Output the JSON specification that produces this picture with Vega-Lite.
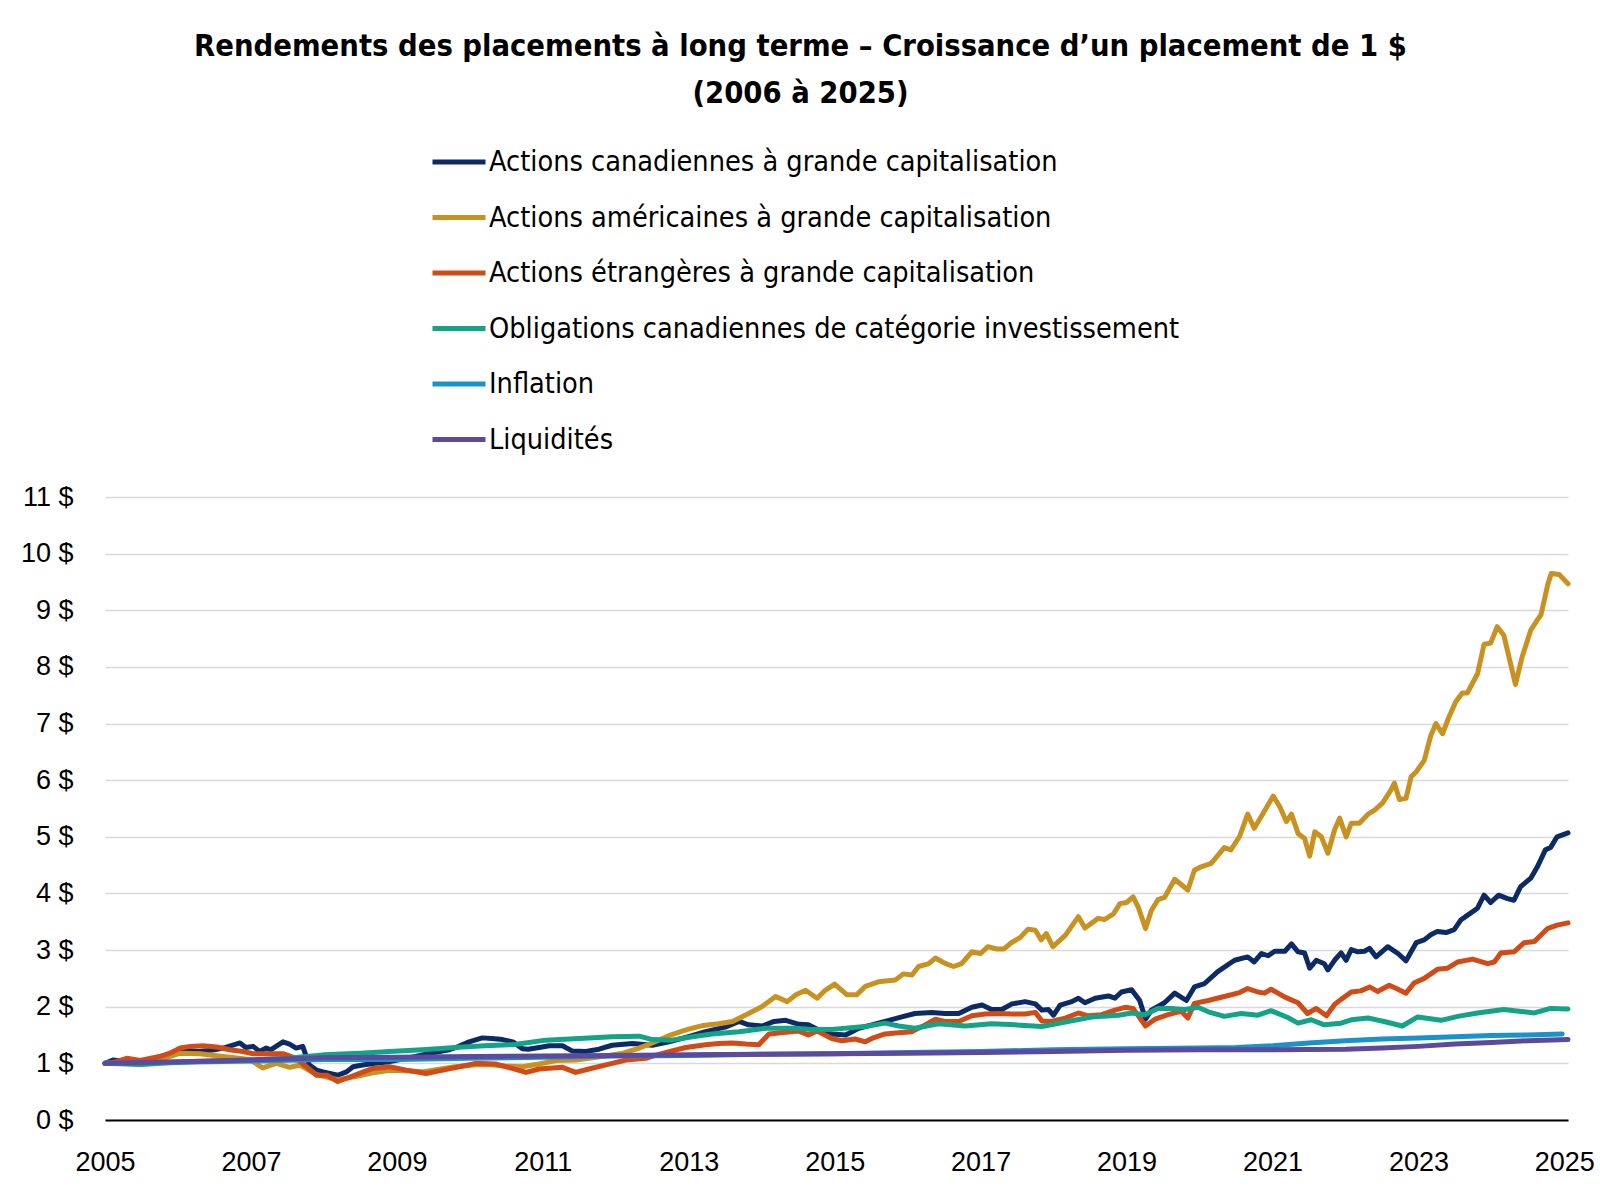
{
  "$schema": "https://vega.github.io/schema/vega-lite/v6.json",
  "width": 1463,
  "height": 623,
  "autosize": "none",
  "padding": {"left": 105, "top": 497, "right": 32, "bottom": 79},
  "background": "#ffffff",
  "title": {
    "text": ["Rendements des placements à long terme – Croissance d’un placement de 1 $", "(2006 à 2025)"],
    "font": "DejaVu Sans Condensed, Roboto Condensed, Roboto, sans-serif",
    "fontSize": 30.6,
    "fontWeight": "bold",
    "color": "#000000",
    "lineHeight": 47,
    "anchor": "middle",
    "frame": "group",
    "dx": -36,
    "dy": 2,
    "offset": 25
  },
  "data": {
    "values": [
      {"serie": "Actions canadiennes à grande capitalisation", "t": 2005.0, "v": 1.0},
      {"serie": "Actions canadiennes à grande capitalisation", "t": 2005.11, "v": 1.06},
      {"serie": "Actions canadiennes à grande capitalisation", "t": 2005.3, "v": 1.03},
      {"serie": "Actions canadiennes à grande capitalisation", "t": 2005.48, "v": 1.03},
      {"serie": "Actions canadiennes à grande capitalisation", "t": 2005.7, "v": 1.1},
      {"serie": "Actions canadiennes à grande capitalisation", "t": 2005.85, "v": 1.15},
      {"serie": "Actions canadiennes à grande capitalisation", "t": 2006.07, "v": 1.23},
      {"serie": "Actions canadiennes à grande capitalisation", "t": 2006.3, "v": 1.21},
      {"serie": "Actions canadiennes à grande capitalisation", "t": 2006.5, "v": 1.24},
      {"serie": "Actions canadiennes à grande capitalisation", "t": 2006.62, "v": 1.27},
      {"serie": "Actions canadiennes à grande capitalisation", "t": 2006.72, "v": 1.31},
      {"serie": "Actions canadiennes à grande capitalisation", "t": 2006.85, "v": 1.36},
      {"serie": "Actions canadiennes à grande capitalisation", "t": 2006.93, "v": 1.28},
      {"serie": "Actions canadiennes à grande capitalisation", "t": 2007.03, "v": 1.3},
      {"serie": "Actions canadiennes à grande capitalisation", "t": 2007.12, "v": 1.21},
      {"serie": "Actions canadiennes à grande capitalisation", "t": 2007.21, "v": 1.27},
      {"serie": "Actions canadiennes à grande capitalisation", "t": 2007.27, "v": 1.24},
      {"serie": "Actions canadiennes à grande capitalisation", "t": 2007.44, "v": 1.38},
      {"serie": "Actions canadiennes à grande capitalisation", "t": 2007.53, "v": 1.34},
      {"serie": "Actions canadiennes à grande capitalisation", "t": 2007.62, "v": 1.27},
      {"serie": "Actions canadiennes à grande capitalisation", "t": 2007.71, "v": 1.3},
      {"serie": "Actions canadiennes à grande capitalisation", "t": 2007.8, "v": 0.97},
      {"serie": "Actions canadiennes à grande capitalisation", "t": 2007.9, "v": 0.88},
      {"serie": "Actions canadiennes à grande capitalisation", "t": 2007.99, "v": 0.85},
      {"serie": "Actions canadiennes à grande capitalisation", "t": 2008.19, "v": 0.79},
      {"serie": "Actions canadiennes à grande capitalisation", "t": 2008.31, "v": 0.85},
      {"serie": "Actions canadiennes à grande capitalisation", "t": 2008.4, "v": 0.94},
      {"serie": "Actions canadiennes à grande capitalisation", "t": 2008.53, "v": 0.97},
      {"serie": "Actions canadiennes à grande capitalisation", "t": 2008.7, "v": 1.0},
      {"serie": "Actions canadiennes à grande capitalisation", "t": 2008.9, "v": 1.03},
      {"serie": "Actions canadiennes à grande capitalisation", "t": 2009.1, "v": 1.08},
      {"serie": "Actions canadiennes à grande capitalisation", "t": 2009.35, "v": 1.15},
      {"serie": "Actions canadiennes à grande capitalisation", "t": 2009.55, "v": 1.2},
      {"serie": "Actions canadiennes à grande capitalisation", "t": 2009.72, "v": 1.24},
      {"serie": "Actions canadiennes à grande capitalisation", "t": 2009.85, "v": 1.3},
      {"serie": "Actions canadiennes à grande capitalisation", "t": 2009.99, "v": 1.38},
      {"serie": "Actions canadiennes à grande capitalisation", "t": 2010.17, "v": 1.45},
      {"serie": "Actions canadiennes à grande capitalisation", "t": 2010.3, "v": 1.44},
      {"serie": "Actions canadiennes à grande capitalisation", "t": 2010.45, "v": 1.42},
      {"serie": "Actions canadiennes à grande capitalisation", "t": 2010.59, "v": 1.38},
      {"serie": "Actions canadiennes à grande capitalisation", "t": 2010.72, "v": 1.26},
      {"serie": "Actions canadiennes à grande capitalisation", "t": 2010.8, "v": 1.25},
      {"serie": "Actions canadiennes à grande capitalisation", "t": 2010.95, "v": 1.28},
      {"serie": "Actions canadiennes à grande capitalisation", "t": 2011.09, "v": 1.31},
      {"serie": "Actions canadiennes à grande capitalisation", "t": 2011.27, "v": 1.31},
      {"serie": "Actions canadiennes à grande capitalisation", "t": 2011.4, "v": 1.22},
      {"serie": "Actions canadiennes à grande capitalisation", "t": 2011.59, "v": 1.21},
      {"serie": "Actions canadiennes à grande capitalisation", "t": 2011.77, "v": 1.25},
      {"serie": "Actions canadiennes à grande capitalisation", "t": 2011.95, "v": 1.32},
      {"serie": "Actions canadiennes à grande capitalisation", "t": 2012.23, "v": 1.35},
      {"serie": "Actions canadiennes à grande capitalisation", "t": 2012.5, "v": 1.32},
      {"serie": "Actions canadiennes à grande capitalisation", "t": 2012.73, "v": 1.38},
      {"serie": "Actions canadiennes à grande capitalisation", "t": 2012.96, "v": 1.46},
      {"serie": "Actions canadiennes à grande capitalisation", "t": 2013.23, "v": 1.56},
      {"serie": "Actions canadiennes à grande capitalisation", "t": 2013.5, "v": 1.64},
      {"serie": "Actions canadiennes à grande capitalisation", "t": 2013.69, "v": 1.74},
      {"serie": "Actions canadiennes à grande capitalisation", "t": 2013.82, "v": 1.68},
      {"serie": "Actions canadiennes à grande capitalisation", "t": 2014.01, "v": 1.66},
      {"serie": "Actions canadiennes à grande capitalisation", "t": 2014.17, "v": 1.74},
      {"serie": "Actions canadiennes à grande capitalisation", "t": 2014.33, "v": 1.76},
      {"serie": "Actions canadiennes à grande capitalisation", "t": 2014.51, "v": 1.69},
      {"serie": "Actions canadiennes à grande capitalisation", "t": 2014.64, "v": 1.68},
      {"serie": "Actions canadiennes à grande capitalisation", "t": 2014.83, "v": 1.56},
      {"serie": "Actions canadiennes à grande capitalisation", "t": 2014.96, "v": 1.52},
      {"serie": "Actions canadiennes à grande capitalisation", "t": 2015.15, "v": 1.5},
      {"serie": "Actions canadiennes à grande capitalisation", "t": 2015.33, "v": 1.62},
      {"serie": "Actions canadiennes à grande capitalisation", "t": 2015.51, "v": 1.68},
      {"serie": "Actions canadiennes à grande capitalisation", "t": 2015.69, "v": 1.74},
      {"serie": "Actions canadiennes à grande capitalisation", "t": 2015.92, "v": 1.82},
      {"serie": "Actions canadiennes à grande capitalisation", "t": 2016.1, "v": 1.88},
      {"serie": "Actions canadiennes à grande capitalisation", "t": 2016.33, "v": 1.9},
      {"serie": "Actions canadiennes à grande capitalisation", "t": 2016.51, "v": 1.88},
      {"serie": "Actions canadiennes à grande capitalisation", "t": 2016.7, "v": 1.88},
      {"serie": "Actions canadiennes à grande capitalisation", "t": 2016.88, "v": 1.99},
      {"serie": "Actions canadiennes à grande capitalisation", "t": 2017.02, "v": 2.03},
      {"serie": "Actions canadiennes à grande capitalisation", "t": 2017.15, "v": 1.95},
      {"serie": "Actions canadiennes à grande capitalisation", "t": 2017.29, "v": 1.95},
      {"serie": "Actions canadiennes à grande capitalisation", "t": 2017.43, "v": 2.05},
      {"serie": "Actions canadiennes à grande capitalisation", "t": 2017.61, "v": 2.09},
      {"serie": "Actions canadiennes à grande capitalisation", "t": 2017.75, "v": 2.05},
      {"serie": "Actions canadiennes à grande capitalisation", "t": 2017.84, "v": 1.94},
      {"serie": "Actions canadiennes à grande capitalisation", "t": 2017.93, "v": 1.95},
      {"serie": "Actions canadiennes à grande capitalisation", "t": 2018.0, "v": 1.85},
      {"serie": "Actions canadiennes à grande capitalisation", "t": 2018.09, "v": 2.03},
      {"serie": "Actions canadiennes à grande capitalisation", "t": 2018.25, "v": 2.09},
      {"serie": "Actions canadiennes à grande capitalisation", "t": 2018.34, "v": 2.15},
      {"serie": "Actions canadiennes à grande capitalisation", "t": 2018.43, "v": 2.07},
      {"serie": "Actions canadiennes à grande capitalisation", "t": 2018.57, "v": 2.15},
      {"serie": "Actions canadiennes à grande capitalisation", "t": 2018.75, "v": 2.19},
      {"serie": "Actions canadiennes à grande capitalisation", "t": 2018.84, "v": 2.15},
      {"serie": "Actions canadiennes à grande capitalisation", "t": 2018.93, "v": 2.26},
      {"serie": "Actions canadiennes à grande capitalisation", "t": 2019.07, "v": 2.3},
      {"serie": "Actions canadiennes à grande capitalisation", "t": 2019.18, "v": 2.11},
      {"serie": "Actions canadiennes à grande capitalisation", "t": 2019.26, "v": 1.78},
      {"serie": "Actions canadiennes à grande capitalisation", "t": 2019.34, "v": 1.94},
      {"serie": "Actions canadiennes à grande capitalisation", "t": 2019.52, "v": 2.07},
      {"serie": "Actions canadiennes à grande capitalisation", "t": 2019.66, "v": 2.24},
      {"serie": "Actions canadiennes à grande capitalisation", "t": 2019.82, "v": 2.11},
      {"serie": "Actions canadiennes à grande capitalisation", "t": 2019.93, "v": 2.35},
      {"serie": "Actions canadiennes à grande capitalisation", "t": 2020.07, "v": 2.41},
      {"serie": "Actions canadiennes à grande capitalisation", "t": 2020.25, "v": 2.62},
      {"serie": "Actions canadiennes à grande capitalisation", "t": 2020.48, "v": 2.82},
      {"serie": "Actions canadiennes à grande capitalisation", "t": 2020.66, "v": 2.88},
      {"serie": "Actions canadiennes à grande capitalisation", "t": 2020.75, "v": 2.79},
      {"serie": "Actions canadiennes à grande capitalisation", "t": 2020.85, "v": 2.94},
      {"serie": "Actions canadiennes à grande capitalisation", "t": 2020.94, "v": 2.9},
      {"serie": "Actions canadiennes à grande capitalisation", "t": 2021.03, "v": 2.98},
      {"serie": "Actions canadiennes à grande capitalisation", "t": 2021.17, "v": 2.98},
      {"serie": "Actions canadiennes à grande capitalisation", "t": 2021.26, "v": 3.11},
      {"serie": "Actions canadiennes à grande capitalisation", "t": 2021.35, "v": 2.97},
      {"serie": "Actions canadiennes à grande capitalisation", "t": 2021.44, "v": 2.95},
      {"serie": "Actions canadiennes à grande capitalisation", "t": 2021.51, "v": 2.68},
      {"serie": "Actions canadiennes à grande capitalisation", "t": 2021.6, "v": 2.82},
      {"serie": "Actions canadiennes à grande capitalisation", "t": 2021.71, "v": 2.76},
      {"serie": "Actions canadiennes à grande capitalisation", "t": 2021.76, "v": 2.65},
      {"serie": "Actions canadiennes à grande capitalisation", "t": 2021.85, "v": 2.82},
      {"serie": "Actions canadiennes à grande capitalisation", "t": 2021.94, "v": 2.95},
      {"serie": "Actions canadiennes à grande capitalisation", "t": 2022.01, "v": 2.82},
      {"serie": "Actions canadiennes à grande capitalisation", "t": 2022.08, "v": 3.01},
      {"serie": "Actions canadiennes à grande capitalisation", "t": 2022.17, "v": 2.97},
      {"serie": "Actions canadiennes à grande capitalisation", "t": 2022.26, "v": 2.98},
      {"serie": "Actions canadiennes à grande capitalisation", "t": 2022.33, "v": 3.03},
      {"serie": "Actions canadiennes à grande capitalisation", "t": 2022.42, "v": 2.88},
      {"serie": "Actions canadiennes à grande capitalisation", "t": 2022.58, "v": 3.06},
      {"serie": "Actions canadiennes à grande capitalisation", "t": 2022.72, "v": 2.94},
      {"serie": "Actions canadiennes à grande capitalisation", "t": 2022.83, "v": 2.81},
      {"serie": "Actions canadiennes à grande capitalisation", "t": 2022.97, "v": 3.13},
      {"serie": "Actions canadiennes à grande capitalisation", "t": 2023.08, "v": 3.18},
      {"serie": "Actions canadiennes à grande capitalisation", "t": 2023.17, "v": 3.27},
      {"serie": "Actions canadiennes à grande capitalisation", "t": 2023.26, "v": 3.33},
      {"serie": "Actions canadiennes à grande capitalisation", "t": 2023.38, "v": 3.31},
      {"serie": "Actions canadiennes à grande capitalisation", "t": 2023.49, "v": 3.36},
      {"serie": "Actions canadiennes à grande capitalisation", "t": 2023.58, "v": 3.53},
      {"serie": "Actions canadiennes à grande capitalisation", "t": 2023.7, "v": 3.64},
      {"serie": "Actions canadiennes à grande capitalisation", "t": 2023.81, "v": 3.74},
      {"serie": "Actions canadiennes à grande capitalisation", "t": 2023.9, "v": 3.97},
      {"serie": "Actions canadiennes à grande capitalisation", "t": 2023.99, "v": 3.84},
      {"serie": "Actions canadiennes à grande capitalisation", "t": 2024.1, "v": 3.97},
      {"serie": "Actions canadiennes à grande capitalisation", "t": 2024.22, "v": 3.91},
      {"serie": "Actions canadiennes à grande capitalisation", "t": 2024.31, "v": 3.88},
      {"serie": "Actions canadiennes à grande capitalisation", "t": 2024.4, "v": 4.12},
      {"serie": "Actions canadiennes à grande capitalisation", "t": 2024.54, "v": 4.27},
      {"serie": "Actions canadiennes à grande capitalisation", "t": 2024.63, "v": 4.47},
      {"serie": "Actions canadiennes à grande capitalisation", "t": 2024.74, "v": 4.77},
      {"serie": "Actions canadiennes à grande capitalisation", "t": 2024.81, "v": 4.81},
      {"serie": "Actions canadiennes à grande capitalisation", "t": 2024.9, "v": 5.0},
      {"serie": "Actions canadiennes à grande capitalisation", "t": 2025.05, "v": 5.07},

      {"serie": "Actions américaines à grande capitalisation", "t": 2005.0, "v": 1.0},
      {"serie": "Actions américaines à grande capitalisation", "t": 2005.25, "v": 1.0},
      {"serie": "Actions américaines à grande capitalisation", "t": 2005.48, "v": 0.98},
      {"serie": "Actions américaines à grande capitalisation", "t": 2005.75, "v": 1.06},
      {"serie": "Actions américaines à grande capitalisation", "t": 2006.03, "v": 1.18},
      {"serie": "Actions américaines à grande capitalisation", "t": 2006.3, "v": 1.17},
      {"serie": "Actions américaines à grande capitalisation", "t": 2006.62, "v": 1.12},
      {"serie": "Actions américaines à grande capitalisation", "t": 2006.98, "v": 1.07},
      {"serie": "Actions américaines à grande capitalisation", "t": 2007.16, "v": 0.92},
      {"serie": "Actions américaines à grande capitalisation", "t": 2007.35, "v": 1.0},
      {"serie": "Actions américaines à grande capitalisation", "t": 2007.53, "v": 0.93},
      {"serie": "Actions américaines à grande capitalisation", "t": 2007.67, "v": 0.97},
      {"serie": "Actions américaines à grande capitalisation", "t": 2007.9, "v": 0.8},
      {"serie": "Actions américaines à grande capitalisation", "t": 2008.19, "v": 0.71},
      {"serie": "Actions américaines à grande capitalisation", "t": 2008.45, "v": 0.77},
      {"serie": "Actions américaines à grande capitalisation", "t": 2008.7, "v": 0.84},
      {"serie": "Actions américaines à grande capitalisation", "t": 2008.9, "v": 0.88},
      {"serie": "Actions américaines à grande capitalisation", "t": 2009.13, "v": 0.87},
      {"serie": "Actions américaines à grande capitalisation", "t": 2009.35, "v": 0.85},
      {"serie": "Actions américaines à grande capitalisation", "t": 2009.6, "v": 0.9},
      {"serie": "Actions américaines à grande capitalisation", "t": 2009.8, "v": 0.94},
      {"serie": "Actions américaines à grande capitalisation", "t": 2010.05, "v": 0.97},
      {"serie": "Actions américaines à grande capitalisation", "t": 2010.26, "v": 0.98},
      {"serie": "Actions américaines à grande capitalisation", "t": 2010.5, "v": 0.95},
      {"serie": "Actions américaines à grande capitalisation", "t": 2010.72, "v": 0.94},
      {"serie": "Actions américaines à grande capitalisation", "t": 2010.95, "v": 0.99},
      {"serie": "Actions américaines à grande capitalisation", "t": 2011.18, "v": 1.05},
      {"serie": "Actions américaines à grande capitalisation", "t": 2011.45, "v": 1.06},
      {"serie": "Actions américaines à grande capitalisation", "t": 2011.63, "v": 1.09},
      {"serie": "Actions américaines à grande capitalisation", "t": 2011.9, "v": 1.14},
      {"serie": "Actions américaines à grande capitalisation", "t": 2012.1, "v": 1.18},
      {"serie": "Actions américaines à grande capitalisation", "t": 2012.3, "v": 1.26},
      {"serie": "Actions américaines à grande capitalisation", "t": 2012.5, "v": 1.36},
      {"serie": "Actions américaines à grande capitalisation", "t": 2012.75, "v": 1.5},
      {"serie": "Actions américaines à grande capitalisation", "t": 2012.96, "v": 1.59},
      {"serie": "Actions américaines à grande capitalisation", "t": 2013.2, "v": 1.67},
      {"serie": "Actions américaines à grande capitalisation", "t": 2013.41, "v": 1.7},
      {"serie": "Actions américaines à grande capitalisation", "t": 2013.6, "v": 1.74},
      {"serie": "Actions américaines à grande capitalisation", "t": 2013.82, "v": 1.88},
      {"serie": "Actions américaines à grande capitalisation", "t": 2014.0, "v": 2.0},
      {"serie": "Actions américaines à grande capitalisation", "t": 2014.19, "v": 2.18},
      {"serie": "Actions américaines à grande capitalisation", "t": 2014.35, "v": 2.09},
      {"serie": "Actions américaines à grande capitalisation", "t": 2014.47, "v": 2.21},
      {"serie": "Actions américaines à grande capitalisation", "t": 2014.6, "v": 2.29},
      {"serie": "Actions américaines à grande capitalisation", "t": 2014.76, "v": 2.15},
      {"serie": "Actions américaines à grande capitalisation", "t": 2014.87, "v": 2.29},
      {"serie": "Actions américaines à grande capitalisation", "t": 2015.0, "v": 2.4},
      {"serie": "Actions américaines à grande capitalisation", "t": 2015.17, "v": 2.21},
      {"serie": "Actions américaines à grande capitalisation", "t": 2015.3, "v": 2.21},
      {"serie": "Actions américaines à grande capitalisation", "t": 2015.42, "v": 2.36},
      {"serie": "Actions américaines à grande capitalisation", "t": 2015.6, "v": 2.44},
      {"serie": "Actions américaines à grande capitalisation", "t": 2015.83, "v": 2.47},
      {"serie": "Actions américaines à grande capitalisation", "t": 2015.94, "v": 2.58},
      {"serie": "Actions américaines à grande capitalisation", "t": 2016.06, "v": 2.56},
      {"serie": "Actions américaines à grande capitalisation", "t": 2016.15, "v": 2.71},
      {"serie": "Actions américaines à grande capitalisation", "t": 2016.29, "v": 2.76},
      {"serie": "Actions américaines à grande capitalisation", "t": 2016.38, "v": 2.86},
      {"serie": "Actions américaines à grande capitalisation", "t": 2016.52, "v": 2.76},
      {"serie": "Actions américaines à grande capitalisation", "t": 2016.63, "v": 2.71},
      {"serie": "Actions américaines à grande capitalisation", "t": 2016.74, "v": 2.76},
      {"serie": "Actions américaines à grande capitalisation", "t": 2016.88, "v": 2.97},
      {"serie": "Actions américaines à grande capitalisation", "t": 2017.0, "v": 2.94},
      {"serie": "Actions américaines à grande capitalisation", "t": 2017.1, "v": 3.06},
      {"serie": "Actions américaines à grande capitalisation", "t": 2017.22, "v": 3.02},
      {"serie": "Actions américaines à grande capitalisation", "t": 2017.32, "v": 3.02},
      {"serie": "Actions américaines à grande capitalisation", "t": 2017.42, "v": 3.13},
      {"serie": "Actions américaines à grande capitalisation", "t": 2017.54, "v": 3.22},
      {"serie": "Actions américaines à grande capitalisation", "t": 2017.65, "v": 3.37},
      {"serie": "Actions américaines à grande capitalisation", "t": 2017.75, "v": 3.35},
      {"serie": "Actions américaines à grande capitalisation", "t": 2017.83, "v": 3.18},
      {"serie": "Actions américaines à grande capitalisation", "t": 2017.9, "v": 3.29},
      {"serie": "Actions américaines à grande capitalisation", "t": 2017.99, "v": 3.06},
      {"serie": "Actions américaines à grande capitalisation", "t": 2018.16, "v": 3.26},
      {"serie": "Actions américaines à grande capitalisation", "t": 2018.34, "v": 3.59},
      {"serie": "Actions américaines à grande capitalisation", "t": 2018.43, "v": 3.39},
      {"serie": "Actions américaines à grande capitalisation", "t": 2018.61, "v": 3.56},
      {"serie": "Actions américaines à grande capitalisation", "t": 2018.7, "v": 3.54},
      {"serie": "Actions américaines à grande capitalisation", "t": 2018.82, "v": 3.64},
      {"serie": "Actions américaines à grande capitalisation", "t": 2018.91, "v": 3.82},
      {"serie": "Actions américaines à grande capitalisation", "t": 2019.0, "v": 3.84},
      {"serie": "Actions américaines à grande capitalisation", "t": 2019.09, "v": 3.94},
      {"serie": "Actions américaines à grande capitalisation", "t": 2019.16, "v": 3.76},
      {"serie": "Actions américaines à grande capitalisation", "t": 2019.26, "v": 3.38},
      {"serie": "Actions américaines à grande capitalisation", "t": 2019.34, "v": 3.7},
      {"serie": "Actions américaines à grande capitalisation", "t": 2019.43, "v": 3.89},
      {"serie": "Actions américaines à grande capitalisation", "t": 2019.52, "v": 3.93},
      {"serie": "Actions américaines à grande capitalisation", "t": 2019.66, "v": 4.25},
      {"serie": "Actions américaines à grande capitalisation", "t": 2019.84, "v": 4.06},
      {"serie": "Actions américaines à grande capitalisation", "t": 2019.93, "v": 4.41},
      {"serie": "Actions américaines à grande capitalisation", "t": 2020.02, "v": 4.47},
      {"serie": "Actions américaines à grande capitalisation", "t": 2020.16, "v": 4.53},
      {"serie": "Actions américaines à grande capitalisation", "t": 2020.34, "v": 4.81},
      {"serie": "Actions américaines à grande capitalisation", "t": 2020.43, "v": 4.77},
      {"serie": "Actions américaines à grande capitalisation", "t": 2020.55, "v": 5.01},
      {"serie": "Actions américaines à grande capitalisation", "t": 2020.66, "v": 5.4},
      {"serie": "Actions américaines à grande capitalisation", "t": 2020.75, "v": 5.15},
      {"serie": "Actions américaines à grande capitalisation", "t": 2020.87, "v": 5.41},
      {"serie": "Actions américaines à grande capitalisation", "t": 2021.01, "v": 5.72},
      {"serie": "Actions américaines à grande capitalisation", "t": 2021.1, "v": 5.53},
      {"serie": "Actions américaines à grande capitalisation", "t": 2021.19, "v": 5.27},
      {"serie": "Actions américaines à grande capitalisation", "t": 2021.26, "v": 5.4},
      {"serie": "Actions américaines à grande capitalisation", "t": 2021.35, "v": 5.06},
      {"serie": "Actions américaines à grande capitalisation", "t": 2021.44, "v": 4.97},
      {"serie": "Actions américaines à grande capitalisation", "t": 2021.51, "v": 4.66},
      {"serie": "Actions américaines à grande capitalisation", "t": 2021.58, "v": 5.09},
      {"serie": "Actions américaines à grande capitalisation", "t": 2021.67, "v": 5.0},
      {"serie": "Actions américaines à grande capitalisation", "t": 2021.76, "v": 4.71},
      {"serie": "Actions américaines à grande capitalisation", "t": 2021.85, "v": 5.12},
      {"serie": "Actions américaines à grande capitalisation", "t": 2021.92, "v": 5.33},
      {"serie": "Actions américaines à grande capitalisation", "t": 2022.01, "v": 5.0},
      {"serie": "Actions américaines à grande capitalisation", "t": 2022.08, "v": 5.24},
      {"serie": "Actions américaines à grande capitalisation", "t": 2022.19, "v": 5.24},
      {"serie": "Actions américaines à grande capitalisation", "t": 2022.31, "v": 5.4},
      {"serie": "Actions américaines à grande capitalisation", "t": 2022.4, "v": 5.47},
      {"serie": "Actions américaines à grande capitalisation", "t": 2022.51, "v": 5.6},
      {"serie": "Actions américaines à grande capitalisation", "t": 2022.62, "v": 5.82},
      {"serie": "Actions américaines à grande capitalisation", "t": 2022.67, "v": 5.95},
      {"serie": "Actions américaines à grande capitalisation", "t": 2022.74, "v": 5.66},
      {"serie": "Actions américaines à grande capitalisation", "t": 2022.83, "v": 5.68},
      {"serie": "Actions américaines à grande capitalisation", "t": 2022.9, "v": 6.06},
      {"serie": "Actions américaines à grande capitalisation", "t": 2022.97, "v": 6.15},
      {"serie": "Actions américaines à grande capitalisation", "t": 2023.08, "v": 6.35},
      {"serie": "Actions américaines à grande capitalisation", "t": 2023.17, "v": 6.79},
      {"serie": "Actions américaines à grande capitalisation", "t": 2023.24, "v": 7.0},
      {"serie": "Actions américaines à grande capitalisation", "t": 2023.33, "v": 6.82},
      {"serie": "Actions américaines à grande capitalisation", "t": 2023.42, "v": 7.12},
      {"serie": "Actions américaines à grande capitalisation", "t": 2023.51, "v": 7.38},
      {"serie": "Actions américaines à grande capitalisation", "t": 2023.6, "v": 7.54},
      {"serie": "Actions américaines à grande capitalisation", "t": 2023.67, "v": 7.54},
      {"serie": "Actions américaines à grande capitalisation", "t": 2023.81, "v": 7.88},
      {"serie": "Actions américaines à grande capitalisation", "t": 2023.9, "v": 8.4},
      {"serie": "Actions américaines à grande capitalisation", "t": 2023.99, "v": 8.42},
      {"serie": "Actions américaines à grande capitalisation", "t": 2024.08, "v": 8.71},
      {"serie": "Actions américaines à grande capitalisation", "t": 2024.17, "v": 8.56},
      {"serie": "Actions américaines à grande capitalisation", "t": 2024.33, "v": 7.69},
      {"serie": "Actions américaines à grande capitalisation", "t": 2024.42, "v": 8.17},
      {"serie": "Actions américaines à grande capitalisation", "t": 2024.54, "v": 8.65},
      {"serie": "Actions américaines à grande capitalisation", "t": 2024.63, "v": 8.83},
      {"serie": "Actions américaines à grande capitalisation", "t": 2024.68, "v": 8.92},
      {"serie": "Actions américaines à grande capitalisation", "t": 2024.77, "v": 9.44},
      {"serie": "Actions américaines à grande capitalisation", "t": 2024.82, "v": 9.65},
      {"serie": "Actions américaines à grande capitalisation", "t": 2024.93, "v": 9.63},
      {"serie": "Actions américaines à grande capitalisation", "t": 2025.05, "v": 9.47},

      {"serie": "Actions étrangères à grande capitalisation", "t": 2005.0, "v": 1.0},
      {"serie": "Actions étrangères à grande capitalisation", "t": 2005.15, "v": 1.03},
      {"serie": "Actions étrangères à grande capitalisation", "t": 2005.3, "v": 1.09},
      {"serie": "Actions étrangères à grande capitalisation", "t": 2005.48, "v": 1.05},
      {"serie": "Actions étrangères à grande capitalisation", "t": 2005.75, "v": 1.12},
      {"serie": "Actions étrangères à grande capitalisation", "t": 2005.89, "v": 1.18},
      {"serie": "Actions étrangères à grande capitalisation", "t": 2006.03, "v": 1.27},
      {"serie": "Actions étrangères à grande capitalisation", "t": 2006.17, "v": 1.3},
      {"serie": "Actions étrangères à grande capitalisation", "t": 2006.34, "v": 1.31},
      {"serie": "Actions étrangères à grande capitalisation", "t": 2006.53, "v": 1.29},
      {"serie": "Actions étrangères à grande capitalisation", "t": 2006.71, "v": 1.24},
      {"serie": "Actions étrangères à grande capitalisation", "t": 2006.89, "v": 1.21},
      {"serie": "Actions étrangères à grande capitalisation", "t": 2007.03, "v": 1.17},
      {"serie": "Actions étrangères à grande capitalisation", "t": 2007.26, "v": 1.17},
      {"serie": "Actions étrangères à grande capitalisation", "t": 2007.44, "v": 1.17},
      {"serie": "Actions étrangères à grande capitalisation", "t": 2007.62, "v": 1.09},
      {"serie": "Actions étrangères à grande capitalisation", "t": 2007.76, "v": 0.94},
      {"serie": "Actions étrangères à grande capitalisation", "t": 2007.9, "v": 0.79},
      {"serie": "Actions étrangères à grande capitalisation", "t": 2008.04, "v": 0.79},
      {"serie": "Actions étrangères à grande capitalisation", "t": 2008.19, "v": 0.68},
      {"serie": "Actions étrangères à grande capitalisation", "t": 2008.4, "v": 0.78},
      {"serie": "Actions étrangères à grande capitalisation", "t": 2008.67, "v": 0.91},
      {"serie": "Actions étrangères à grande capitalisation", "t": 2008.9, "v": 0.94},
      {"serie": "Actions étrangères à grande capitalisation", "t": 2009.13, "v": 0.88},
      {"serie": "Actions étrangères à grande capitalisation", "t": 2009.4, "v": 0.82},
      {"serie": "Actions étrangères à grande capitalisation", "t": 2009.63, "v": 0.88},
      {"serie": "Actions étrangères à grande capitalisation", "t": 2009.86, "v": 0.94},
      {"serie": "Actions étrangères à grande capitalisation", "t": 2010.08, "v": 1.0},
      {"serie": "Actions étrangères à grande capitalisation", "t": 2010.35, "v": 0.99},
      {"serie": "Actions étrangères à grande capitalisation", "t": 2010.58, "v": 0.91},
      {"serie": "Actions étrangères à grande capitalisation", "t": 2010.77, "v": 0.84},
      {"serie": "Actions étrangères à grande capitalisation", "t": 2010.95, "v": 0.9},
      {"serie": "Actions étrangères à grande capitalisation", "t": 2011.27, "v": 0.93},
      {"serie": "Actions étrangères à grande capitalisation", "t": 2011.45, "v": 0.84},
      {"serie": "Actions étrangères à grande capitalisation", "t": 2011.63, "v": 0.9},
      {"serie": "Actions étrangères à grande capitalisation", "t": 2011.95, "v": 1.0},
      {"serie": "Actions étrangères à grande capitalisation", "t": 2012.14, "v": 1.06},
      {"serie": "Actions étrangères à grande capitalisation", "t": 2012.41, "v": 1.09},
      {"serie": "Actions étrangères à grande capitalisation", "t": 2012.59, "v": 1.16},
      {"serie": "Actions étrangères à grande capitalisation", "t": 2012.77, "v": 1.22},
      {"serie": "Actions étrangères à grande capitalisation", "t": 2012.96, "v": 1.28},
      {"serie": "Actions étrangères à grande capitalisation", "t": 2013.23, "v": 1.33},
      {"serie": "Actions étrangères à grande capitalisation", "t": 2013.41, "v": 1.35},
      {"serie": "Actions étrangères à grande capitalisation", "t": 2013.6, "v": 1.36},
      {"serie": "Actions étrangères à grande capitalisation", "t": 2013.78, "v": 1.34},
      {"serie": "Actions étrangères à grande capitalisation", "t": 2013.96, "v": 1.33},
      {"serie": "Actions étrangères à grande capitalisation", "t": 2014.1, "v": 1.52},
      {"serie": "Actions étrangères à grande capitalisation", "t": 2014.33, "v": 1.55},
      {"serie": "Actions étrangères à grande capitalisation", "t": 2014.51, "v": 1.57},
      {"serie": "Actions étrangères à grande capitalisation", "t": 2014.64, "v": 1.5},
      {"serie": "Actions étrangères à grande capitalisation", "t": 2014.76, "v": 1.57},
      {"serie": "Actions étrangères à grande capitalisation", "t": 2014.96, "v": 1.44},
      {"serie": "Actions étrangères à grande capitalisation", "t": 2015.1, "v": 1.4},
      {"serie": "Actions étrangères à grande capitalisation", "t": 2015.28, "v": 1.43},
      {"serie": "Actions étrangères à grande capitalisation", "t": 2015.42, "v": 1.38},
      {"serie": "Actions étrangères à grande capitalisation", "t": 2015.51, "v": 1.44},
      {"serie": "Actions étrangères à grande capitalisation", "t": 2015.69, "v": 1.52},
      {"serie": "Actions étrangères à grande capitalisation", "t": 2015.88, "v": 1.54},
      {"serie": "Actions étrangères à grande capitalisation", "t": 2016.06, "v": 1.56},
      {"serie": "Actions étrangères à grande capitalisation", "t": 2016.24, "v": 1.68},
      {"serie": "Actions étrangères à grande capitalisation", "t": 2016.38, "v": 1.78},
      {"serie": "Actions étrangères à grande capitalisation", "t": 2016.51, "v": 1.74},
      {"serie": "Actions étrangères à grande capitalisation", "t": 2016.7, "v": 1.74},
      {"serie": "Actions étrangères à grande capitalisation", "t": 2016.88, "v": 1.84},
      {"serie": "Actions étrangères à grande capitalisation", "t": 2017.06, "v": 1.87},
      {"serie": "Actions étrangères à grande capitalisation", "t": 2017.24, "v": 1.88},
      {"serie": "Actions étrangères à grande capitalisation", "t": 2017.43, "v": 1.87},
      {"serie": "Actions étrangères à grande capitalisation", "t": 2017.61, "v": 1.87},
      {"serie": "Actions étrangères à grande capitalisation", "t": 2017.75, "v": 1.9},
      {"serie": "Actions étrangères à grande capitalisation", "t": 2017.84, "v": 1.75},
      {"serie": "Actions étrangères à grande capitalisation", "t": 2017.97, "v": 1.74},
      {"serie": "Actions étrangères à grande capitalisation", "t": 2018.16, "v": 1.8},
      {"serie": "Actions étrangères à grande capitalisation", "t": 2018.34, "v": 1.89},
      {"serie": "Actions étrangères à grande capitalisation", "t": 2018.47, "v": 1.84},
      {"serie": "Actions étrangères à grande capitalisation", "t": 2018.66, "v": 1.86},
      {"serie": "Actions étrangères à grande capitalisation", "t": 2018.84, "v": 1.94},
      {"serie": "Actions étrangères à grande capitalisation", "t": 2018.98, "v": 1.99},
      {"serie": "Actions étrangères à grande capitalisation", "t": 2019.09, "v": 1.97},
      {"serie": "Actions étrangères à grande capitalisation", "t": 2019.26, "v": 1.66},
      {"serie": "Actions étrangères à grande capitalisation", "t": 2019.39, "v": 1.78},
      {"serie": "Actions étrangères à grande capitalisation", "t": 2019.57, "v": 1.86},
      {"serie": "Actions étrangères à grande capitalisation", "t": 2019.75, "v": 1.92},
      {"serie": "Actions étrangères à grande capitalisation", "t": 2019.84, "v": 1.8},
      {"serie": "Actions étrangères à grande capitalisation", "t": 2019.93, "v": 2.06},
      {"serie": "Actions étrangères à grande capitalisation", "t": 2020.12, "v": 2.11},
      {"serie": "Actions étrangères à grande capitalisation", "t": 2020.34, "v": 2.18},
      {"serie": "Actions étrangères à grande capitalisation", "t": 2020.55, "v": 2.25},
      {"serie": "Actions étrangères à grande capitalisation", "t": 2020.66, "v": 2.32},
      {"serie": "Actions étrangères à grande capitalisation", "t": 2020.8, "v": 2.26},
      {"serie": "Actions étrangères à grande capitalisation", "t": 2020.89, "v": 2.24},
      {"serie": "Actions étrangères à grande capitalisation", "t": 2020.98, "v": 2.31},
      {"serie": "Actions étrangères à grande capitalisation", "t": 2021.17, "v": 2.17},
      {"serie": "Actions étrangères à grande capitalisation", "t": 2021.35, "v": 2.07},
      {"serie": "Actions étrangères à grande capitalisation", "t": 2021.48, "v": 1.88},
      {"serie": "Actions étrangères à grande capitalisation", "t": 2021.6, "v": 1.97},
      {"serie": "Actions étrangères à grande capitalisation", "t": 2021.74, "v": 1.84},
      {"serie": "Actions étrangères à grande capitalisation", "t": 2021.85, "v": 2.04},
      {"serie": "Actions étrangères à grande capitalisation", "t": 2021.94, "v": 2.13},
      {"serie": "Actions étrangères à grande capitalisation", "t": 2022.08, "v": 2.26},
      {"serie": "Actions étrangères à grande capitalisation", "t": 2022.21, "v": 2.28},
      {"serie": "Actions étrangères à grande capitalisation", "t": 2022.33, "v": 2.35},
      {"serie": "Actions étrangères à grande capitalisation", "t": 2022.44, "v": 2.27},
      {"serie": "Actions étrangères à grande capitalisation", "t": 2022.6, "v": 2.38},
      {"serie": "Actions étrangères à grande capitalisation", "t": 2022.72, "v": 2.31},
      {"serie": "Actions étrangères à grande capitalisation", "t": 2022.83, "v": 2.24},
      {"serie": "Actions étrangères à grande capitalisation", "t": 2022.94, "v": 2.42},
      {"serie": "Actions étrangères à grande capitalisation", "t": 2023.08, "v": 2.5},
      {"serie": "Actions étrangères à grande capitalisation", "t": 2023.26, "v": 2.66},
      {"serie": "Actions étrangères à grande capitalisation", "t": 2023.4, "v": 2.68},
      {"serie": "Actions étrangères à grande capitalisation", "t": 2023.54, "v": 2.79},
      {"serie": "Actions étrangères à grande capitalisation", "t": 2023.74, "v": 2.84},
      {"serie": "Actions étrangères à grande capitalisation", "t": 2023.95, "v": 2.76},
      {"serie": "Actions étrangères à grande capitalisation", "t": 2024.04, "v": 2.79},
      {"serie": "Actions étrangères à grande capitalisation", "t": 2024.13, "v": 2.95},
      {"serie": "Actions étrangères à grande capitalisation", "t": 2024.31, "v": 2.97},
      {"serie": "Actions étrangères à grande capitalisation", "t": 2024.45, "v": 3.13},
      {"serie": "Actions étrangères à grande capitalisation", "t": 2024.59, "v": 3.15},
      {"serie": "Actions étrangères à grande capitalisation", "t": 2024.77, "v": 3.38},
      {"serie": "Actions étrangères à grande capitalisation", "t": 2024.9, "v": 3.44},
      {"serie": "Actions étrangères à grande capitalisation", "t": 2025.05, "v": 3.48},

      {"serie": "Obligations canadiennes de catégorie investissement", "t": 2005.0, "v": 1.0},
      {"serie": "Obligations canadiennes de catégorie investissement", "t": 2005.5, "v": 0.98},
      {"serie": "Obligations canadiennes de catégorie investissement", "t": 2006.0, "v": 1.02},
      {"serie": "Obligations canadiennes de catégorie investissement", "t": 2006.5, "v": 1.04},
      {"serie": "Obligations canadiennes de catégorie investissement", "t": 2007.0, "v": 1.06},
      {"serie": "Obligations canadiennes de catégorie investissement", "t": 2007.5, "v": 1.09},
      {"serie": "Obligations canadiennes de catégorie investissement", "t": 2007.99, "v": 1.15},
      {"serie": "Obligations canadiennes de catégorie investissement", "t": 2008.5, "v": 1.18},
      {"serie": "Obligations canadiennes de catégorie investissement", "t": 2008.9, "v": 1.21},
      {"serie": "Obligations canadiennes de catégorie investissement", "t": 2009.35, "v": 1.24},
      {"serie": "Obligations canadiennes de catégorie investissement", "t": 2009.8, "v": 1.28},
      {"serie": "Obligations canadiennes de catégorie investissement", "t": 2010.2, "v": 1.31},
      {"serie": "Obligations canadiennes de catégorie investissement", "t": 2010.59, "v": 1.33},
      {"serie": "Obligations canadiennes de catégorie investissement", "t": 2011.04, "v": 1.41},
      {"serie": "Obligations canadiennes de catégorie investissement", "t": 2011.5, "v": 1.44},
      {"serie": "Obligations canadiennes de catégorie investissement", "t": 2011.95, "v": 1.47},
      {"serie": "Obligations canadiennes de catégorie investissement", "t": 2012.32, "v": 1.48},
      {"serie": "Obligations canadiennes de catégorie investissement", "t": 2012.5, "v": 1.42},
      {"serie": "Obligations canadiennes de catégorie investissement", "t": 2012.77, "v": 1.41},
      {"serie": "Obligations canadiennes de catégorie investissement", "t": 2013.05, "v": 1.47},
      {"serie": "Obligations canadiennes de catégorie investissement", "t": 2013.32, "v": 1.52},
      {"serie": "Obligations canadiennes de catégorie investissement", "t": 2013.69, "v": 1.56},
      {"serie": "Obligations canadiennes de catégorie investissement", "t": 2014.05, "v": 1.62},
      {"serie": "Obligations canadiennes de catégorie investissement", "t": 2014.46, "v": 1.62},
      {"serie": "Obligations canadiennes de catégorie investissement", "t": 2014.69, "v": 1.6},
      {"serie": "Obligations canadiennes de catégorie investissement", "t": 2014.96, "v": 1.6},
      {"serie": "Obligations canadiennes de catégorie investissement", "t": 2015.42, "v": 1.65},
      {"serie": "Obligations canadiennes de catégorie investissement", "t": 2015.69, "v": 1.71},
      {"serie": "Obligations canadiennes de catégorie investissement", "t": 2015.88, "v": 1.66},
      {"serie": "Obligations canadiennes de catégorie investissement", "t": 2016.1, "v": 1.62},
      {"serie": "Obligations canadiennes de catégorie investissement", "t": 2016.42, "v": 1.7},
      {"serie": "Obligations canadiennes de catégorie investissement", "t": 2016.79, "v": 1.66},
      {"serie": "Obligations canadiennes de catégorie investissement", "t": 2017.15, "v": 1.7},
      {"serie": "Obligations canadiennes de catégorie investissement", "t": 2017.47, "v": 1.68},
      {"serie": "Obligations canadiennes de catégorie investissement", "t": 2017.84, "v": 1.65},
      {"serie": "Obligations canadiennes de catégorie investissement", "t": 2018.16, "v": 1.73},
      {"serie": "Obligations canadiennes de catégorie investissement", "t": 2018.52, "v": 1.82},
      {"serie": "Obligations canadiennes de catégorie investissement", "t": 2018.89, "v": 1.85},
      {"serie": "Obligations canadiennes de catégorie investissement", "t": 2019.07, "v": 1.89},
      {"serie": "Obligations canadiennes de catégorie investissement", "t": 2019.25, "v": 1.86},
      {"serie": "Obligations canadiennes de catégorie investissement", "t": 2019.43, "v": 1.97},
      {"serie": "Obligations canadiennes de catégorie investissement", "t": 2019.61, "v": 1.97},
      {"serie": "Obligations canadiennes de catégorie investissement", "t": 2019.8, "v": 1.95},
      {"serie": "Obligations canadiennes de catégorie investissement", "t": 2019.98, "v": 1.99},
      {"serie": "Obligations canadiennes de catégorie investissement", "t": 2020.12, "v": 1.91},
      {"serie": "Obligations canadiennes de catégorie investissement", "t": 2020.34, "v": 1.83},
      {"serie": "Obligations canadiennes de catégorie investissement", "t": 2020.57, "v": 1.88},
      {"serie": "Obligations canadiennes de catégorie investissement", "t": 2020.8, "v": 1.85},
      {"serie": "Obligations canadiennes de catégorie investissement", "t": 2020.98, "v": 1.93},
      {"serie": "Obligations canadiennes de catégorie investissement", "t": 2021.21, "v": 1.81},
      {"serie": "Obligations canadiennes de catégorie investissement", "t": 2021.35, "v": 1.71},
      {"serie": "Obligations canadiennes de catégorie investissement", "t": 2021.53, "v": 1.77},
      {"serie": "Obligations canadiennes de catégorie investissement", "t": 2021.71, "v": 1.68},
      {"serie": "Obligations canadiennes de catégorie investissement", "t": 2021.94, "v": 1.71},
      {"serie": "Obligations canadiennes de catégorie investissement", "t": 2022.08, "v": 1.77},
      {"serie": "Obligations canadiennes de catégorie investissement", "t": 2022.31, "v": 1.8},
      {"serie": "Obligations canadiennes de catégorie investissement", "t": 2022.53, "v": 1.74},
      {"serie": "Obligations canadiennes de catégorie investissement", "t": 2022.78, "v": 1.66},
      {"serie": "Obligations canadiennes de catégorie investissement", "t": 2022.99, "v": 1.82},
      {"serie": "Obligations canadiennes de catégorie investissement", "t": 2023.31, "v": 1.76},
      {"serie": "Obligations canadiennes de catégorie investissement", "t": 2023.54, "v": 1.83},
      {"serie": "Obligations canadiennes de catégorie investissement", "t": 2023.81, "v": 1.89},
      {"serie": "Obligations canadiennes de catégorie investissement", "t": 2024.17, "v": 1.95},
      {"serie": "Obligations canadiennes de catégorie investissement", "t": 2024.59, "v": 1.89},
      {"serie": "Obligations canadiennes de catégorie investissement", "t": 2024.81, "v": 1.97},
      {"serie": "Obligations canadiennes de catégorie investissement", "t": 2025.05, "v": 1.96},

      {"serie": "Inflation", "t": 2005.0, "v": 1.0},
      {"serie": "Inflation", "t": 2006.0, "v": 1.02},
      {"serie": "Inflation", "t": 2007.0, "v": 1.04},
      {"serie": "Inflation", "t": 2008.0, "v": 1.07},
      {"serie": "Inflation", "t": 2009.0, "v": 1.07},
      {"serie": "Inflation", "t": 2010.0, "v": 1.09},
      {"serie": "Inflation", "t": 2011.0, "v": 1.11},
      {"serie": "Inflation", "t": 2012.0, "v": 1.13},
      {"serie": "Inflation", "t": 2013.0, "v": 1.14},
      {"serie": "Inflation", "t": 2014.0, "v": 1.16},
      {"serie": "Inflation", "t": 2015.0, "v": 1.17},
      {"serie": "Inflation", "t": 2016.0, "v": 1.19},
      {"serie": "Inflation", "t": 2017.0, "v": 1.21},
      {"serie": "Inflation", "t": 2018.0, "v": 1.24},
      {"serie": "Inflation", "t": 2019.0, "v": 1.26},
      {"serie": "Inflation", "t": 2020.0, "v": 1.27},
      {"serie": "Inflation", "t": 2020.5, "v": 1.28},
      {"serie": "Inflation", "t": 2021.0, "v": 1.31},
      {"serie": "Inflation", "t": 2021.5, "v": 1.36},
      {"serie": "Inflation", "t": 2022.0, "v": 1.4},
      {"serie": "Inflation", "t": 2022.5, "v": 1.43},
      {"serie": "Inflation", "t": 2023.0, "v": 1.45},
      {"serie": "Inflation", "t": 2023.5, "v": 1.47},
      {"serie": "Inflation", "t": 2024.0, "v": 1.49},
      {"serie": "Inflation", "t": 2024.5, "v": 1.5},
      {"serie": "Inflation", "t": 2024.97, "v": 1.52},

      {"serie": "Liquidités", "t": 2005.0, "v": 1.0},
      {"serie": "Liquidités", "t": 2006.0, "v": 1.03},
      {"serie": "Liquidités", "t": 2007.0, "v": 1.06},
      {"serie": "Liquidités", "t": 2008.0, "v": 1.1},
      {"serie": "Liquidités", "t": 2009.0, "v": 1.11},
      {"serie": "Liquidités", "t": 2010.0, "v": 1.12},
      {"serie": "Liquidités", "t": 2011.0, "v": 1.13},
      {"serie": "Liquidités", "t": 2012.0, "v": 1.14},
      {"serie": "Liquidités", "t": 2013.0, "v": 1.15},
      {"serie": "Liquidités", "t": 2014.0, "v": 1.16},
      {"serie": "Liquidités", "t": 2015.0, "v": 1.17},
      {"serie": "Liquidités", "t": 2016.0, "v": 1.18},
      {"serie": "Liquidités", "t": 2017.0, "v": 1.19},
      {"serie": "Liquidités", "t": 2018.0, "v": 1.21},
      {"serie": "Liquidités", "t": 2019.0, "v": 1.23},
      {"serie": "Liquidités", "t": 2020.0, "v": 1.24},
      {"serie": "Liquidités", "t": 2021.0, "v": 1.24},
      {"serie": "Liquidités", "t": 2022.0, "v": 1.25},
      {"serie": "Liquidités", "t": 2022.5, "v": 1.27},
      {"serie": "Liquidités", "t": 2023.0, "v": 1.3},
      {"serie": "Liquidités", "t": 2023.5, "v": 1.34},
      {"serie": "Liquidités", "t": 2024.0, "v": 1.37},
      {"serie": "Liquidités", "t": 2024.5, "v": 1.4},
      {"serie": "Liquidités", "t": 2025.05, "v": 1.42}
    ]
  },
  "mark": {"type": "line", "strokeWidth": 5, "strokeJoin": "round", "strokeCap": "round"},
  "encoding": {
    "x": {
      "field": "t",
      "type": "quantitative",
      "scale": {"domain": [2005, 2025.05], "nice": false, "zero": false},
      "axis": {
        "title": null,
        "values": [2005, 2007, 2009, 2011, 2013, 2015, 2017, 2019, 2021, 2023, 2025],
        "format": "d",
        "grid": false,
        "ticks": false,
        "domainColor": "#000000",
        "domainWidth": 2,
        "labelFont": "Liberation Sans",
        "labelFontSize": 27,
        "labelColor": "#000000",
        "labelPadding": 29,
        "labelFlush": false
      }
    },
    "y": {
      "field": "v",
      "type": "quantitative",
      "scale": {"domain": [0, 11], "nice": false},
      "axis": {
        "title": null,
        "values": [0, 1, 2, 3, 4, 5, 6, 7, 8, 9, 10, 11],
        "labelExpr": "datum.value + ' $'",
        "domain": false,
        "ticks": false,
        "gridColor": "#d9d9d9",
        "gridWidth": 1.5,
        "labelFont": "Liberation Sans",
        "labelFontSize": 27,
        "labelColor": "#000000",
        "labelPadding": 32
      }
    },
    "color": {
      "field": "serie",
      "type": "nominal",
      "scale": {
        "domain": [
          "Actions canadiennes à grande capitalisation",
          "Actions américaines à grande capitalisation",
          "Actions étrangères à grande capitalisation",
          "Obligations canadiennes de catégorie investissement",
          "Inflation",
          "Liquidités"
        ],
        "range": ["#0c2b66", "#c9911f", "#d04b16", "#13a386", "#1a93c9", "#5b4a9e"]
      },
      "legend": {
        "orient": "none",
        "legendX": 325,
        "legendY": -364,
        "direction": "vertical",
        "title": null,
        "padding": 0,
        "symbolType": "stroke",
        "symbolSize": 2809,
        "symbolStrokeWidth": 5,
        "labelFont": "DejaVu Sans Condensed, Roboto Condensed, Roboto, sans-serif",
        "labelFontSize": 28.6,
        "labelColor": "#000000",
        "labelOffset": 1,
        "labelLimit": 0,
        "rowPadding": 11.5
      }
    }
  },
  "config": {
    "view": {"stroke": null}
  }
}
